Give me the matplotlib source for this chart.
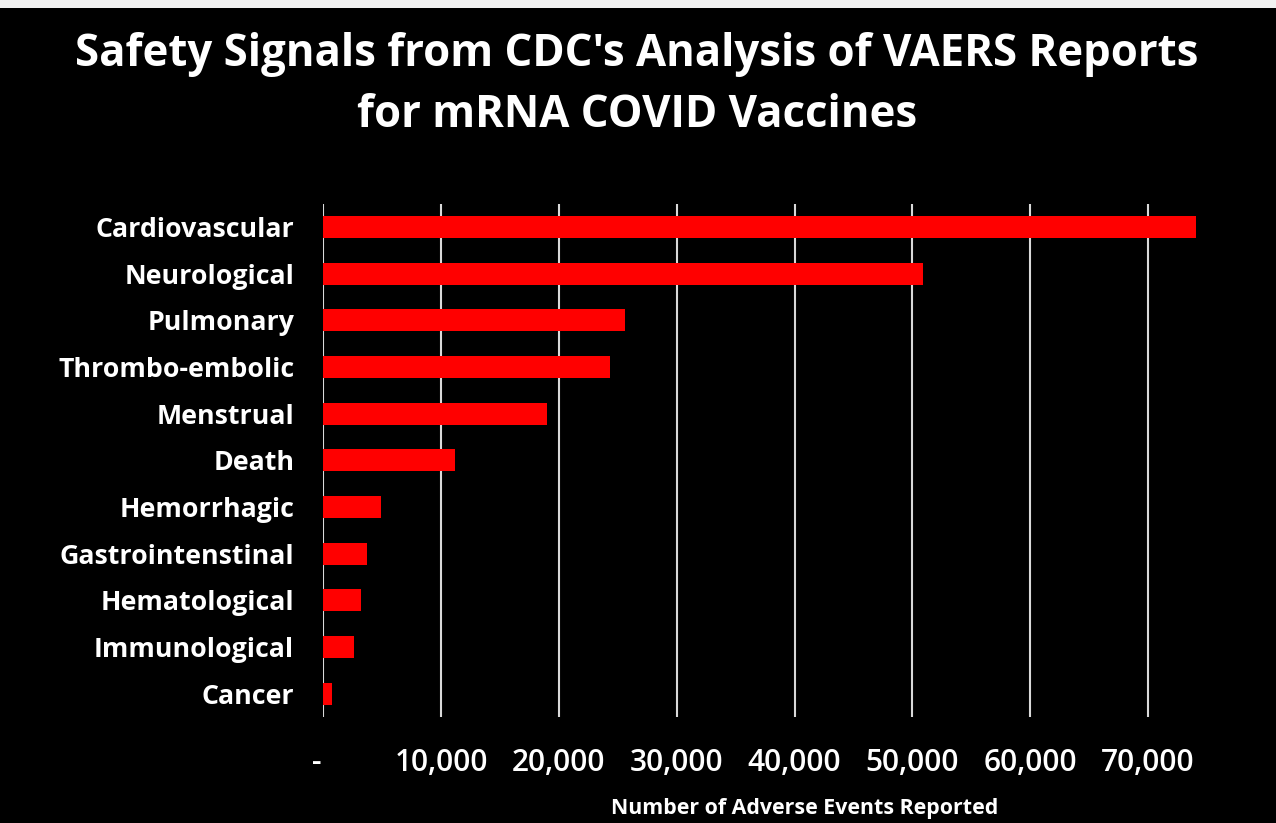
import matplotlib
matplotlib.use("Agg")
import matplotlib.pyplot as plt
import matplotlib.transforms as mtransforms
from matplotlib.patches import Rectangle
from matplotlib.ticker import FuncFormatter

categories = ["Cardiovascular", "Neurological", "Pulmonary", "Thrombo-embolic",
              "Menstrual", "Death", "Hemorrhagic", "Gastrointenstinal",
              "Hematological", "Immunological", "Cancer"]
values = [74100, 50900, 25600, 24350, 19000, 11200, 4900, 3730, 3200, 2630, 740]
xticks = [0, 10000, 20000, 30000, 40000, 50000, 60000, 70000]

FONT = "Open Sans"

fig = plt.figure(figsize=(12.76, 8.23), dpi=100, facecolor="black")
ax = fig.add_axes([0.2534, 0.1288, 0.9459 - 0.2534, 0.752 - 0.1288])
ax.set_facecolor("black")

y = list(range(len(categories)))
ax.barh(y, values, height=0.47, color="#ff0000", zorder=3)
ax.set_ylim(len(categories) - 0.5, -0.49)
ax.set_xlim(0, 75000)

ax.set_xticks(xticks)
ax.xaxis.set_major_formatter(FuncFormatter(lambda v, p: "-" if v == 0 else f"{int(v):,}"))
ax.grid(axis="x", color="#d9d9d9", linewidth=1.5, zorder=0)
ax.set_yticks(y)
ax.set_yticklabels(categories, fontsize=19.3, fontweight="bold", color="white", family=FONT)
for lab in ax.get_xticklabels():
    lab.set_fontsize(21.5)
    lab.set_fontweight(600)
    lab.set_color("white")
    lab.set_family(FONT)
ax.tick_params(axis="both", length=0)
ax.tick_params(axis="x", pad=22)
ax.tick_params(axis="y", pad=21)
for s in ax.spines.values():
    s.set_visible(False)

# shift the "-" zero label slightly left, as in accounting format
first = ax.xaxis.get_major_ticks()[0].label1
first.set_transform(first.get_transform() +
                    mtransforms.ScaledTranslation(-7 / 100, 0, fig.dpi_scale_trans))

ax.set_xlabel("Number of Adverse Events Reported", fontsize=15.4, fontweight="bold",
              color="white", family=FONT, labelpad=15)
ax.xaxis.label.set_x(0.5446)

fig.text(0.499, 0.934, "Safety Signals from CDC's Analysis of VAERS Reports",
         ha="center", va="center", fontsize=31.5, fontweight="bold", color="white", family=FONT)
fig.text(0.499, 0.860, "for mRNA COVID Vaccines",
         ha="center", va="center", fontsize=31.5, fontweight="bold", color="white", family=FONT)

fig.patches.append(Rectangle((0, 1 - 8 / 823), 1, 8 / 823, transform=fig.transFigure,
                             facecolor="#f2f2f2", edgecolor="none"))

fig.savefig("out.png", dpi=100, facecolor="black")
